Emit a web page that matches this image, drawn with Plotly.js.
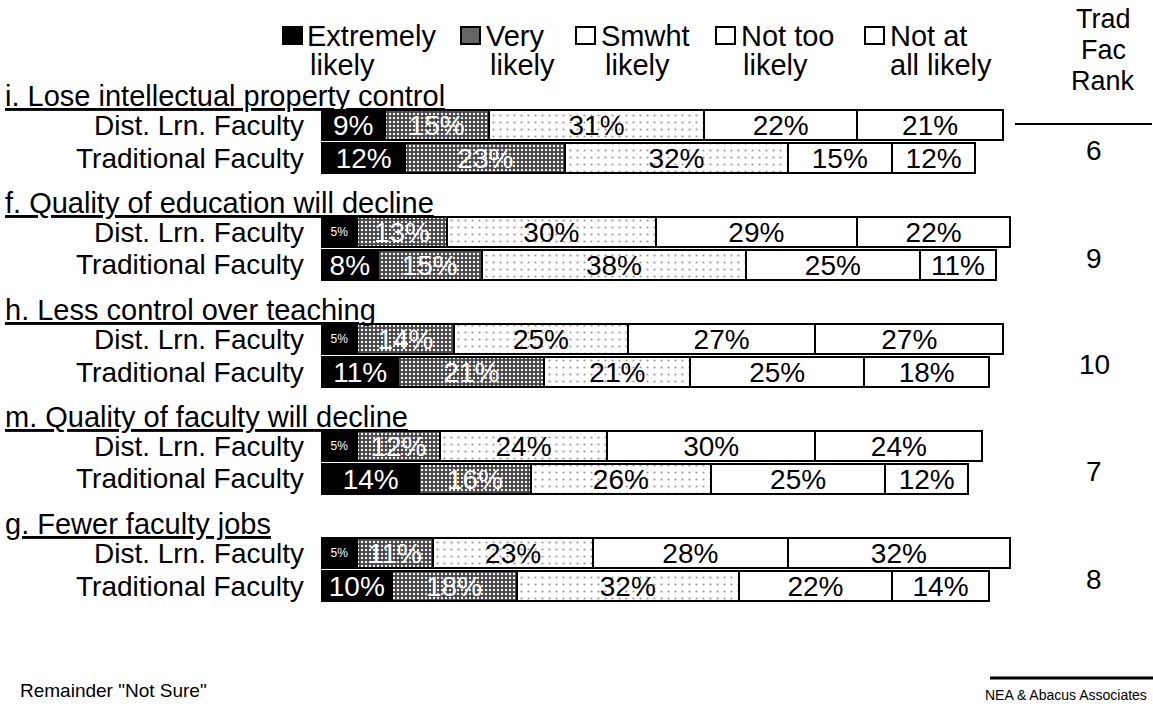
<!DOCTYPE html>
<html>
<head>
<meta charset="utf-8">
<script src="https://cdn.plot.ly/plotly-3.0.1.min.js"></script>
<style>html,body{margin:0;padding:0;background:#fff;}#chart{width:1153px;height:712px;}</style>
</head>
<body>
<div id="chart"></div>
<script>
// ---- data ----
const items = [
  "i. Lose intellectual property control",
  "f. Quality of education will decline",
  "h. Less control over teaching",
  "m. Quality of faculty will decline",
  "g. Fewer faculty jobs"
];
const groups = ["Dist. Lrn. Faculty", "Traditional Faculty"];
const seriesNames = ["Extremely likely", "Very likely", "Smwht likely", "Not too likely", "Not at all likely"];
// rows in order: item i (Dist, Trad), item f (Dist, Trad), ...
const extremely = [9, 12, 5, 8, 5, 11, 5, 14, 5, 10];
const very      = [15, 23, 13, 15, 14, 21, 12, 16, 11, 18];
const smwht     = [31, 32, 30, 38, 25, 21, 24, 26, 23, 32];
const notToo    = [22, 15, 29, 25, 27, 25, 30, 25, 28, 22];
const notAtAll  = [21, 12, 22, 11, 27, 18, 24, 12, 32, 14];
const tradRank  = [6, 9, 10, 7, 8];

// ---- layout geometry (pixels) ----
const W = 1153, H = 712;
const X0 = 322, PPU = 6.95;           // bar origin px, px per percent
const LABEL_Y0 = 96, GROUP_STEP = 107;
const DIST_OFF = 29, TRAD_OFF = 62, BAR_W = 30;
const FONT = "Liberation Sans, Arial, sans-serif";

const labelY = items.map((_, k) => LABEL_Y0 + GROUP_STEP * k);
const rowY = [];
labelY.forEach(l => { rowY.push(l + DIST_OFF); rowY.push(l + TRAD_OFF); });

const px = x => x / W;
const py = y => 1 - y / H;

const styles = [
  {color: "#000", pattern: null, text: "#fff"},
  {color: "#555", pattern: {shape: ".", fgcolor: "#f0f0f0", bgcolor: "#444", size: 4, solidity: 0.3, fillmode: "replace"}, text: "#fff"},
  {color: "#fff", pattern: {shape: ".", fgcolor: "#9a9a9a", bgcolor: "#ffffff", size: 7, solidity: 0.08, fillmode: "replace"}, text: "#000"},
  {color: "#fff", pattern: null, text: "#000"},
  {color: "#fff", pattern: null, text: "#000"}
];
const seriesVals = [extremely, very, smwht, notToo, notAtAll];

const traces = seriesVals.map((vals, s) => {
  const m = {color: styles[s].color, line: {color: "#000", width: 2}};
  if (styles[s].pattern) m.pattern = styles[s].pattern;
  return {
    type: "bar", orientation: "h", name: seriesNames[s],
    x: vals, y: rowY, width: BAR_W,
    marker: m,
    text: vals.map(v => v + "%"),
    textposition: "inside", insidetextanchor: "middle",
    textangle: 0, constraintext: "none",
    textfont: {family: FONT, color: styles[s].text, size: vals.map(v => v <= 5 ? 12 : 28)},
    hoverinfo: "skip", showlegend: false
  };
});

const annotations = [];
const shapes = [];

// group titles and row labels
items.forEach((t, k) => {
  annotations.push({xref: "paper", yref: "paper", x: px(3), y: py(labelY[k]), xanchor: "left", yanchor: "middle",
    text: '<span style="text-decoration:underline">' + t + '</span>', showarrow: false,
    font: {family: FONT, size: 29, color: "#000"}});
  groups.forEach((g, j) => {
    annotations.push({xref: "paper", yref: "paper", x: px(306), y: py(rowY[2 * k + j]), xanchor: "right", yanchor: "middle",
      text: g, showarrow: false, font: {family: FONT, size: 28, color: "#000"}});
  });
  annotations.push({xref: "paper", yref: "paper", x: px(1094), y: py(labelY[k] + 55), xanchor: "center", yanchor: "middle",
    text: String(tradRank[k]), showarrow: false, font: {family: FONT, size: 28, color: "#000"}});
});

// rank header
["Trad", "Fac", "Rank"].forEach((t, i) => {
  annotations.push({xref: "paper", yref: "paper", x: px(1103), y: py(19 + 31 * i), xanchor: "center", yanchor: "middle",
    text: t, showarrow: false, font: {family: FONT, size: 27, color: "#000"}});
});
shapes.push({type: "line", xref: "paper", yref: "paper", x0: px(1015), x1: px(1152), y0: py(124), y1: py(124), line: {color: "#000", width: 2}});

// custom legend
const legendItems = [
  {box: 283, l1: "Extremely", l2: "likely", t1: 305, t2: 308},
  {box: 461, l1: "Very", l2: "likely", t1: 484, t2: 488},
  {box: 576, l1: "Smwht", l2: "likely", t1: 599, t2: 603},
  {box: 716, l1: "Not too", l2: "likely", t1: 739, t2: 741},
  {box: 865, l1: "Not at", l2: "all likely", t1: 888, t2: 888}
];
const legFill = ["#000", "#666", "#fff", "#fff", "#fff"];
legendItems.forEach((li, s) => {
  shapes.push({type: "rect", xref: "paper", yref: "paper", x0: px(li.box), x1: px(li.box + 19), y0: py(44), y1: py(27),
    fillcolor: legFill[s], line: {color: "#000", width: 2}});
  annotations.push({xref: "paper", yref: "paper", x: px(li.t1), y: py(36), xanchor: "left", yanchor: "middle",
    text: li.l1, showarrow: false, font: {family: FONT, size: 29, color: "#000"}});
  annotations.push({xref: "paper", yref: "paper", x: px(li.t2), y: py(65), xanchor: "left", yanchor: "middle",
    text: li.l2, showarrow: false, font: {family: FONT, size: 29, color: "#000"}});
});

// footer
annotations.push({xref: "paper", yref: "paper", x: px(18), y: py(690), xanchor: "left", yanchor: "middle",
  text: 'Remainder "Not Sure"', showarrow: false, font: {family: FONT, size: 19, color: "#000"}});
annotations.push({xref: "paper", yref: "paper", x: px(1149), y: py(695), xanchor: "right", yanchor: "middle",
  text: "NEA &amp; Abacus Associates", showarrow: false, font: {family: FONT, size: 14, color: "#000"}});
shapes.push({type: "line", xref: "paper", yref: "paper", x0: px(990), x1: px(1153), y0: py(678), y1: py(678), line: {color: "#000", width: 3}});

const layout = {
  width: W, height: H,
  margin: {l: 0, r: 0, t: 0, b: 0},
  paper_bgcolor: "#fff", plot_bgcolor: "#fff",
  barmode: "stack",
  showlegend: false,
  xaxis: {range: [-X0 / PPU, (W - X0) / PPU], visible: false, fixedrange: true},
  yaxis: {range: [H, 0], visible: false, fixedrange: true},
  annotations: annotations,
  shapes: shapes,
  font: {family: FONT}
};

Plotly.newPlot("chart", traces, layout, {displayModeBar: false, staticPlot: true});
</script>
</body>
</html>
